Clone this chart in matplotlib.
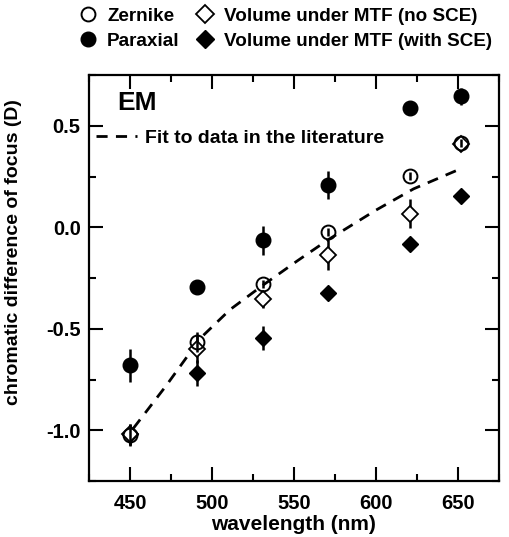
import matplotlib
matplotlib.use("Agg")
import matplotlib.pyplot as plt
from matplotlib.lines import Line2D
from matplotlib.ticker import MultipleLocator, FormatStrFormatter

plt.rcParams['font.family'] = ['Liberation Sans', 'DejaVu Sans']
plt.rcParams['font.weight'] = 'bold'

# wavelengths (nm)
wl = [450, 491, 531, 571, 621, 652]

paraxial = [-0.68, -0.295, -0.064, 0.21, 0.59, 0.645]
paraxial_err = [0.08, 0.0, 0.07, 0.07, 0.0, 0.04]

zernike = [-1.025, -0.563, -0.279, -0.023, 0.252, 0.417]
zernike_err = [0.05, 0.05, 0.02, 0.02, 0.02, 0.02]

mtf_nosce = [-1.02, -0.60, -0.353, -0.137, 0.068, 0.41]
mtf_nosce_err = [0.05, 0.07, 0.045, 0.075, 0.07, 0.02]

mtf_sce = [-1.02, -0.716, -0.546, -0.325, -0.084, 0.153]
mtf_sce_err = [0.05, 0.065, 0.06, 0.0, 0.0, 0.03]

# fit to literature data
fit_wl = [452, 472, 493, 511, 531, 552, 571, 600, 623, 652]
fit_d = [-0.99, -0.78, -0.545, -0.405, -0.285, -0.165, -0.06, 0.085, 0.19, 0.29]

fig = plt.figure(figsize=(5.09, 5.37), dpi=100)
ax = fig.add_axes([0.175, 0.104, 0.805, 0.756])

ebkw = dict(ls='none', ecolor='black', elinewidth=1.8, capsize=0)
ax.errorbar(wl, mtf_sce, yerr=mtf_sce_err, marker='D', ms=8.5, mfc='black',
            mec='black', zorder=3, **ebkw)
ax.errorbar(wl, mtf_nosce, yerr=mtf_nosce_err, marker='D', ms=8.5, mfc='white',
            mec='black', mew=1.3, zorder=4, **ebkw)
ax.errorbar(wl, paraxial, yerr=paraxial_err, marker='o', ms=10.5, mfc='black',
            mec='black', zorder=3, **ebkw)
ax.errorbar(wl, zernike, yerr=zernike_err, marker='o', ms=10, mfc='none',
            mec='black', mew=1.4, zorder=5, **ebkw)

fit_line, = ax.plot(fit_wl, fit_d, color='black', lw=2, ls=(0, (4, 3)), zorder=2)

ax.set_xlim(425, 675)
ax.set_ylim(-1.25, 0.75)
ax.xaxis.set_major_locator(MultipleLocator(50))
ax.xaxis.set_minor_locator(MultipleLocator(25))
ax.yaxis.set_major_locator(MultipleLocator(0.5))
ax.yaxis.set_minor_locator(MultipleLocator(0.25))
ax.yaxis.set_major_formatter(FormatStrFormatter('%.1f'))
ax.tick_params(which='both', direction='in', top=True, right=True,
               width=1.5, labelsize=14.5)
ax.tick_params(axis='x', pad=9)
ax.tick_params(axis='y', pad=6)
ax.tick_params(which='major', length=10)
ax.tick_params(which='minor', length=5)
for s in ax.spines.values():
    s.set_linewidth(1.6)

ax.set_xlabel('wavelength (nm)', fontsize=15, fontweight='bold', labelpad=2)
ax.set_ylabel('chromatic difference of focus (D)', fontsize=14, fontweight='bold')
ax.yaxis.set_label_coords(-0.163, 0.565)

ax.text(0.068, 0.96, 'EM', transform=ax.transAxes, fontsize=19,
        fontweight='bold', va='top', ha='left')
ax.legend([fit_line], ['Fit to data in the literature'], loc='upper left',
          bbox_to_anchor=(-0.025, 0.91), frameon=False, handlelength=2.1,
          handletextpad=0.4, prop=dict(size=14, weight='bold'))

handles = [
    Line2D([], [], ls='none', marker='o', ms=10, mfc='white', mec='black', mew=1.4),
    Line2D([], [], ls='none', marker='o', ms=10.5, mfc='black', mec='black'),
    Line2D([], [], ls='none', marker='D', ms=9, mfc='white', mec='black', mew=1.3),
    Line2D([], [], ls='none', marker='D', ms=9, mfc='black', mec='black'),
]
labels = ['Zernike', 'Paraxial', 'Volume under MTF (no SCE)',
          'Volume under MTF (with SCE)']
fig.legend(handles, labels, ncol=2, loc='upper left', bbox_to_anchor=(0.155, 0.986),
           frameon=False, borderpad=0, borderaxespad=0, handlelength=1.0,
           handletextpad=0.5, columnspacing=0.85, labelspacing=0.4,
           prop=dict(size=13.6, weight='bold'))

fig.savefig('out.png', dpi=100)
